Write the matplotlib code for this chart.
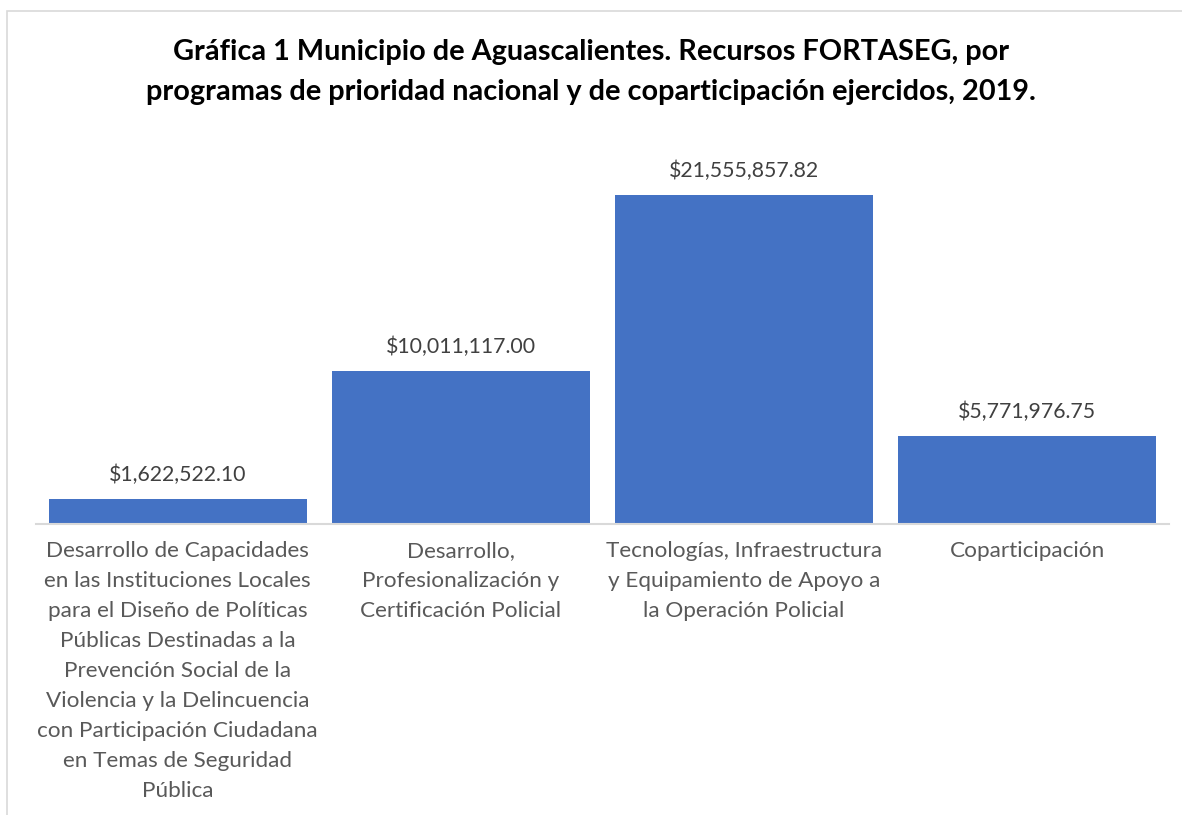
import matplotlib.pyplot as plt
from matplotlib.patches import Rectangle

plt.rcParams['font.family'] = ['Lato', 'DejaVu Sans']

# datos
categorias = [
    'Desarrollo de Capacidades\nen las Instituciones Locales\npara el Diseño de Políticas\n'
    'Públicas Destinadas a la\nPrevención Social de la\nViolencia y la Delincuencia\n'
    'con Participación Ciudadana\nen Temas de Seguridad\nPública',
    'Desarrollo,\nProfesionalización y\nCertificación Policial',
    'Tecnologías, Infraestructura\ny Equipamiento de Apoyo a\nla Operación Policial',
    'Coparticipación',
]
montos = [1622522.10, 10011117.00, 21555857.82, 5771976.75]
etiquetas = ['$1,622,522.10', '$10,011,117.00', '$21,555,857.82', '$5,771,976.75']

titulo = ('Gráfica 1 Municipio de Aguascalientes. Recursos FORTASEG, por\n'
          'programas de prioridad nacional y de coparticipación ejercidos, 2019.')

fig = plt.figure(figsize=(11.82, 8.15), dpi=100)

# marco del area del grafico (solo se ven borde izquierdo y superior)
fig.add_artist(Rectangle((7 / 1182, -0.05), 1.2, (815 - 11) / 815 + 0.05,
                         transform=fig.transFigure, fill=False,
                         edgecolor='#d9d9d9', linewidth=1.2))

ax = fig.add_axes([36 / 1182, (815 - 524) / 815, 1133 / 1182, 382 / 815])
x = range(len(montos))
ax.bar(x, montos, width=0.91, color='#4472C4')
ax.set_xlim(-0.5, len(montos) - 0.5)
ax.set_ylim(0, 25e6)

for i, (v, t) in enumerate(zip(montos, etiquetas)):
    ax.annotate(t, (i, v), xytext=(0, 10), textcoords='offset points',
                ha='center', va='bottom', fontsize=15.3, color='#404040')

ax.set_xticks(list(x))
ax.set_xticklabels(categorias, fontsize=16.2, color='#595959', linespacing=1.63, va='top')
ax.tick_params(axis='x', length=0, pad=12)
ax.set_yticks([])
for s in ['top', 'right', 'left']:
    ax.spines[s].set_visible(False)
ax.spines['bottom'].set_color('#d9d9d9')
ax.spines['bottom'].set_linewidth(1.5)

fig.text(0.5, 1 - 72 / 815, titulo, ha='center', va='center', fontsize=20.8,
         fontweight='bold', color='black', linespacing=1.62)

fig.savefig('out.png', dpi=100)
